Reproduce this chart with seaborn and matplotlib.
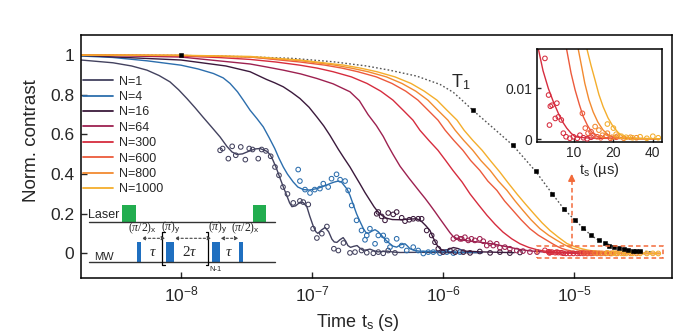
import numpy as np
import pandas as pd
import matplotlib
matplotlib.use("Agg")
import matplotlib.pyplot as plt
import seaborn as sns
from matplotlib.lines import Line2D
from matplotlib.patches import Rectangle
from matplotlib.ticker import FixedLocator, NullLocator

sns.set_style("ticks")
plt.rcParams['font.family'] = ['Liberation Sans', 'DejaVu Sans']
plt.rcParams['mathtext.fontset'] = 'custom'
plt.rcParams['mathtext.rm'] = 'Liberation Sans'
plt.rcParams['mathtext.it'] = 'Liberation Serif:italic'
plt.rcParams['mathtext.bf'] = 'Liberation Sans:bold'

# ---------------- data ----------------
series_names = ['N=1', 'N=4', 'N=16', 'N=64', 'N=300', 'N=600', 'N=800', 'N=1000']
series_colors = ['#43425f', '#2c6ead', '#3b1a3c', '#9d2150', '#d62c3e', '#ec5a3c', '#f28a30', '#f4ae2c']

# fitted curves, time in seconds
fit_n1_t = [1.73e-9, 3.03e-9, 4.2e-9, 5.5e-9, 6.8e-9, 8.24e-9, 9.6e-9, 1.11e-8, 1.28e-8, 1.47e-8,
            1.72e-8, 1.99e-8, 2.24e-8, 2.45e-8, 2.67e-8, 2.95e-8, 3.37e-8, 3.7e-8, 4.01e-8, 4.53e-8,
            4.8e-8, 5.04e-8, 5.35e-8, 5.70e-8, 6.05e-8, 6.44e-8, 6.75e-8, 7.03e-8, 7.5e-8, 8.09e-8,
            8.6e-8, 9.16e-8, 9.6e-8, 1.02e-7, 1.07e-7, 1.11e-7, 1.18e-7, 1.26e-7, 1.34e-7, 1.42e-7,
            1.48e-7, 1.55e-7, 1.64e-7, 1.73e-7, 1.81e-7, 1.88e-7, 1.97e-7, 2.08e-7, 2.21e-7, 2.33e-7,
            2.45e-7, 2.6e-7, 2.77e-7, 2.97e-7, 3.19e-7, 3.45e-7, 3.74e-7, 4.2e-7, 4.70e-7, 6.67e-7,
            1.13e-6, 2.0e-6]
fit_n1_y = [0.975, 0.961, 0.945, 0.924, 0.897, 0.865, 0.825, 0.781, 0.735, 0.688,
            0.636, 0.587, 0.540, 0.512, 0.499, 0.502, 0.518, 0.527, 0.529, 0.515,
            0.497, 0.470, 0.430, 0.380, 0.335, 0.290, 0.255, 0.236, 0.240, 0.258,
            0.256, 0.234, 0.190, 0.140, 0.110, 0.101, 0.118, 0.131, 0.110, 0.072,
            0.058, 0.056, 0.070, 0.080, 0.062, 0.040, 0.031, 0.036, 0.040, 0.026,
            0.016, 0.018, 0.022, 0.014, 0.008, 0.010, 0.012, 0.007, 0.005, 0.006,
            0.004, 0.004]

fit_n4_t = [1.73e-9, 3.0e-9, 5.5e-9, 1.0e-8, 1.35e-8, 1.77e-8, 2.1e-8, 2.37e-8, 2.7e-8, 2.99e-8,
            3.37e-8, 3.8e-8, 4.25e-8, 4.7e-8, 5.2e-8, 5.6e-8, 6.04e-8, 6.5e-8, 7.2e-8, 7.8e-8,
            8.6e-8, 9.6e-8, 1.09e-7, 1.22e-7, 1.37e-7, 1.48e-7, 1.59e-7, 1.68e-7, 1.75e-7, 1.85e-7,
            1.95e-7, 2.07e-7, 2.19e-7, 2.33e-7, 2.47e-7, 2.58e-7, 2.7e-7, 2.85e-7, 3.03e-7, 3.2e-7,
            3.4e-7, 3.65e-7, 3.94e-7, 4.15e-7, 4.43e-7, 4.75e-7, 5.13e-7, 5.35e-7, 5.6e-7, 6.0e-7,
            6.6e-7, 8.0e-7, 1.0e-6, 1.3e-6, 2.0e-6]
fit_n4_y = [0.995, 0.988, 0.971, 0.949, 0.930, 0.907, 0.885, 0.857, 0.815, 0.773,
            0.722, 0.680, 0.638, 0.585, 0.529, 0.480, 0.436, 0.400, 0.360, 0.335,
            0.322, 0.320, 0.327, 0.338, 0.352, 0.360, 0.365, 0.360, 0.345, 0.325,
            0.293, 0.245, 0.200, 0.160, 0.125, 0.106, 0.102, 0.112, 0.120, 0.110,
            0.091, 0.068, 0.049, 0.037, 0.032, 0.044, 0.049, 0.038, 0.024, 0.016,
            0.012, 0.010, 0.012, 0.006, 0.005]

fit_n16_t = [1.73e-9, 1.0e-8, 2.2e-8, 3.37e-8, 4.5e-8, 5.2e-8, 6.04e-8, 7.0e-8, 8.1e-8, 9.5e-8,
             1.09e-7, 1.23e-7, 1.37e-7, 1.59e-7, 1.76e-7, 1.95e-7, 2.13e-7, 2.32e-7, 2.54e-7, 2.77e-7,
             2.98e-7, 3.2e-7, 3.45e-7, 3.71e-7, 4.1e-7, 4.7e-7, 5.5e-7, 6.3e-7, 6.9e-7, 7.4e-7,
             7.96e-7, 8.3e-7, 8.7e-7, 9.1e-7, 9.5e-7, 1.0e-6, 1.1e-6, 1.2e-6, 1.3e-6, 1.45e-6,
             2.0e-6, 3.5e-6]
fit_n16_y = [0.998, 0.975, 0.945, 0.916, 0.877, 0.860, 0.840, 0.812, 0.781, 0.737,
             0.688, 0.643, 0.596, 0.525, 0.480, 0.436, 0.393, 0.352, 0.307, 0.268,
             0.235, 0.209, 0.190, 0.178, 0.171, 0.170, 0.173, 0.175, 0.160, 0.140,
             0.116, 0.088, 0.060, 0.038, 0.024, 0.016, 0.020, 0.030, 0.025, 0.012,
             0.008, 0.004]

fit_n64_t = [1.73e-9, 1.0e-8, 2.0e-8, 3.37e-8, 4.5e-8, 6.04e-8, 8.2e-8, 1.09e-7, 1.45e-7, 1.95e-7,
             2.3e-7, 2.68e-7, 3.1e-7, 3.5e-7, 3.8e-7, 4.15e-7, 4.7e-7, 5.5e-7, 6.67e-7, 7.3e-7,
             7.96e-7, 8.7e-7, 9.48e-7, 1.04e-6, 1.13e-6, 1.2e-6, 1.28e-6, 1.4e-6, 1.61e-6, 1.9e-6,
             2.17e-6, 2.5e-6, 2.87e-6, 3.3e-6, 3.87e-6, 4.5e-6, 5.22e-6, 6.3e-6, 7.82e-6, 1.6e-5]
fit_n64_y = [1.0, 0.990, 0.970, 0.955, 0.940, 0.924, 0.905, 0.882, 0.855, 0.815,
             0.770, 0.700, 0.645, 0.590, 0.545, 0.500, 0.440, 0.380, 0.310, 0.278,
             0.245, 0.210, 0.175, 0.138, 0.105, 0.085, 0.075, 0.068, 0.062, 0.057,
             0.052, 0.046, 0.038, 0.030, 0.020, 0.014, 0.010, 0.006, 0.004, 0.002]

fit_n300_t = [1.73e-9, 5.0e-9, 1.0e-8, 2.0e-8, 3.37e-8, 5.3e-8, 8.09e-8, 1.1e-7, 1.45e-7, 2.0e-7,
              2.63e-7, 3.35e-7, 4.15e-7, 5.0e-7, 5.9e-7, 6.67e-7, 7.8e-7, 9.16e-7, 1.05e-6, 1.19e-6,
              1.4e-6, 1.61e-6, 1.87e-6, 2.17e-6, 2.5e-6, 2.87e-6, 3.35e-6, 3.87e-6, 4.5e-6, 5.22e-6,
              5.8e-6, 6.37e-6, 7.0e-6, 7.6e-6, 8.2e-6, 8.8e-6, 9.5e-6, 1.02e-5, 1.2e-5, 1.5e-5,
              4.5e-5]
fit_n300_y = [1.0, 0.998, 0.995, 0.987, 0.978, 0.965, 0.949, 0.934, 0.916, 0.890,
              0.857, 0.818, 0.773, 0.720, 0.672, 0.621, 0.570, 0.520, 0.468, 0.419,
              0.360, 0.300, 0.245, 0.192, 0.147, 0.108, 0.074, 0.049, 0.031, 0.019,
              0.0135, 0.010, 0.0072, 0.0051, 0.0034, 0.0022, 0.0012, 0.0005, 0.0003, 0.0002,
              0.0001]

fit_n600_t = [1.73e-9, 1.0e-8, 3.37e-8, 8.09e-8, 1.26e-7, 1.7e-7, 2.24e-7, 3.1e-7, 4.08e-7, 5.2e-7,
              6.44e-7, 7.75e-7, 9.16e-7, 1.04e-6, 1.21e-6, 1.42e-6, 1.63e-6, 1.91e-6, 2.2e-6, 2.58e-6,
              2.95e-6, 3.42e-6, 3.95e-6, 4.61e-6, 5.35e-6, 6.22e-6, 6.9e-6, 7.5e-6, 8.1e-6, 8.8e-6,
              9.5e-6, 1.02e-5, 1.1e-5, 1.18e-5, 1.27e-5, 1.36e-5, 1.45e-5, 1.55e-5, 2.0e-5, 4.5e-5]
fit_n600_y = [1.0, 0.998, 0.990, 0.965, 0.949, 0.934, 0.916, 0.890, 0.857, 0.818,
              0.773, 0.720, 0.672, 0.621, 0.570, 0.520, 0.468, 0.419, 0.365, 0.318,
              0.265, 0.217, 0.170, 0.125, 0.092, 0.066, 0.048, 0.035, 0.025, 0.0176,
              0.013, 0.0097, 0.0068, 0.0044, 0.0027, 0.0015, 0.0008, 0.0004, 0.0002, 0.0001]

fit_n800_t = [1.73e-9, 1.0e-8, 3.37e-8, 8.09e-8, 1.5e-7, 2.0e-7, 2.68e-7, 3.7e-7, 4.86e-7, 6.2e-7,
              7.67e-7, 9.2e-7, 1.09e-6, 1.24e-6, 1.44e-6, 1.69e-6, 1.95e-6, 2.29e-6, 2.65e-6, 3.08e-6,
              3.55e-6, 4.08e-6, 4.7e-6, 5.5e-6, 6.4e-6, 7.41e-6, 8.3e-6, 9.1e-6, 9.88e-6, 1.08e-5,
              1.15e-5, 1.21e-5, 1.3e-5, 1.4e-5, 1.52e-5, 1.67e-5, 1.82e-5, 2.0e-5, 3.0e-5, 4.5e-5]
fit_n800_y = [1.0, 0.998, 0.990, 0.972, 0.949, 0.934, 0.916, 0.890, 0.857, 0.818,
              0.773, 0.720, 0.672, 0.621, 0.570, 0.520, 0.468, 0.419, 0.365, 0.318,
              0.265, 0.217, 0.170, 0.125, 0.092, 0.066, 0.047, 0.034, 0.025, 0.0176,
              0.014, 0.011, 0.0078, 0.0054, 0.0034, 0.0018, 0.0009, 0.0004, 0.0001, 0.0001]

fit_n1000_t = [1.73e-9, 1.0e-8, 3.37e-8, 8.09e-8, 1.76e-7, 2.35e-7, 3.13e-7, 4.3e-7, 5.7e-7, 7.2e-7,
               8.99e-7, 1.08e-6, 1.28e-6, 1.45e-6, 1.69e-6, 1.99e-6, 2.3e-6, 2.72e-6, 3.15e-6, 3.67e-6,
               4.25e-6, 4.95e-6, 5.7e-6, 6.56e-6, 7.6e-6, 8.85e-6, 1.0e-5, 1.13e-5, 1.26e-5, 1.35e-5,
               1.45e-5, 1.55e-5, 1.67e-5, 1.82e-5, 1.99e-5, 2.18e-5, 2.38e-5, 3.0e-5, 4.5e-5]
fit_n1000_y = [1.0, 0.999, 0.993, 0.975, 0.949, 0.934, 0.916, 0.890, 0.857, 0.818,
               0.773, 0.720, 0.672, 0.621, 0.570, 0.520, 0.468, 0.410, 0.355, 0.300,
               0.250, 0.200, 0.155, 0.116, 0.082, 0.050, 0.036, 0.025, 0.0176, 0.0145,
               0.0116, 0.0088, 0.0064, 0.0042, 0.0025, 0.0013, 0.0005, 0.0002, 0.0001]

# measured points (open circles)
data_n1_t = [1.99e-8, 2.08e-8, 2.30e-8, 2.46e-8, 2.62e-8, 2.86e-8, 3.10e-8, 3.32e-8, 3.52e-8, 3.89e-8,
             4.13e-8, 4.45e-8, 4.84e-8, 5.22e-8, 5.60e-8, 6.01e-8, 6.50e-8, 7.20e-8, 8.09e-8, 8.58e-8,
             9.37e-8, 1.02e-7, 1.09e-7, 1.19e-7, 1.30e-7, 1.47e-7, 1.59e-7, 1.74e-7, 1.95e-7, 2.13e-7,
             2.39e-7, 2.62e-7, 2.94e-7, 3.21e-7, 3.50e-7, 3.82e-7, 4.30e-7]
data_n1_y = [0.520, 0.529, 0.478, 0.540, 0.495, 0.537, 0.473, 0.529, 0.524, 0.478,
             0.524, 0.517, 0.490, 0.436, 0.394, 0.335, 0.300, 0.255, 0.265, 0.259,
             0.247, 0.125, 0.078, 0.100, 0.136, 0.024, 0.015, 0.053, 0.003, 0.007,
             0.015, 0.004, 0.001, 0.007, 0.001, 0.015, 0.003]

data_n4_t = [7.85e-8, 8.09e-8, 8.85e-8, 9.66e-8, 1.05e-7, 1.15e-7, 1.22e-7, 1.33e-7, 1.41e-7, 1.54e-7,
             1.64e-7, 1.79e-7, 1.89e-7, 2.01e-7, 2.19e-7, 2.39e-7, 2.54e-7, 2.62e-7, 2.77e-7, 3.03e-7,
             3.21e-7, 3.50e-7, 3.72e-7, 3.94e-7, 4.43e-7, 4.84e-7, 5.29e-7, 5.93e-7, 6.47e-7, 7.08e-7,
             7.72e-7, 8.43e-7, 9.48e-7, 1.07e-6, 1.20e-6, 1.35e-6]
data_n4_y = [0.423, 0.365, 0.322, 0.305, 0.322, 0.327, 0.352, 0.335, 0.377, 0.399,
             0.372, 0.365, 0.318, 0.242, 0.167, 0.116, 0.069, 0.091, 0.125, 0.049,
             0.091, 0.091, 0.066, 0.032, 0.074, 0.040, 0.015, 0.032, 0.015, 0.000,
             0.007, 0.007, 0.002, 0.007, 0.002, 0.007]

data_n16_t = [3.12e-7, 3.21e-7, 3.40e-7, 3.61e-7, 3.82e-7, 4.17e-7, 4.43e-7, 4.84e-7, 5.13e-7, 5.53e-7,
              5.93e-7, 6.47e-7, 6.87e-7, 7.51e-7, 8.20e-7, 8.69e-7, 9.21e-7, 1.00e-6, 1.13e-6, 1.24e-6,
              1.43e-6, 1.61e-6, 1.91e-6, 2.29e-6, 2.72e-6, 3.24e-6, 3.87e-6]
data_n16_y = [0.200, 0.209, 0.187, 0.167, 0.204, 0.197, 0.209, 0.180, 0.163, 0.170,
              0.175, 0.175, 0.175, 0.116, 0.091, 0.057, 0.024, 0.007, 0.015, 0.007,
              0.007, 0.003, 0.010, 0.003, 0.007, 0.002, 0.005]

data_n64_t = [1.20e-6, 1.27e-6, 1.35e-6, 1.39e-6, 1.47e-6, 1.56e-6, 1.65e-6, 1.75e-6, 1.91e-6, 2.03e-6,
              2.16e-6, 2.29e-6, 2.42e-6, 2.57e-6, 2.72e-6, 2.97e-6, 3.24e-6, 3.66e-6, 4.08e-6, 4.61e-6,
              5.22e-6]
data_n64_y = [0.074, 0.082, 0.074, 0.074, 0.082, 0.066, 0.074, 0.066, 0.074, 0.062,
              0.040, 0.052, 0.040, 0.049, 0.029, 0.032, 0.024, 0.015, 0.012, 0.007,
              0.007]

data_n300_t = [6.0e-6, 6.4e-6, 6.6e-6, 6.8e-6, 6.5e-6, 7.2e-6, 7.4e-6, 7.6e-6, 8.0e-6, 8.3e-6,
               8.7e-6, 9.3e-6, 9.9e-6, 1.06e-5, 1.11e-5, 1.18e-5, 1.26e-5, 1.35e-5]
data_n300_y = [0.0159, 0.0087, 0.0065, 0.0067, 0.0028, 0.0041, 0.0071, 0.0044, 0.0038, 0.0012,
               0.0005, 0.0002, 0.0005, 0.0002, 0.0008, 0.0003, 0.0001, 0.0004]

data_n600_t = [1.16e-5, 1.22e-5, 1.28e-5, 1.35e-5, 1.40e-5, 1.50e-5, 1.60e-5, 1.75e-5, 1.9e-5, 2.1e-5]
data_n600_y = [0.0051, 0.0022, 0.0012, 0.0015, 0.0008, 0.0005, 0.0003, 0.0006, 0.0002, 0.0004]

data_n800_t = [1.45e-5, 1.55e-5, 1.65e-5, 1.80e-5, 1.95e-5, 2.15e-5, 2.4e-5, 2.7e-5, 3.0e-5]
data_n800_y = [0.0025, 0.0018, 0.0008, 0.0012, 0.0004, 0.0006, 0.0002, 0.0004, 0.0003]

data_n1000_t = [1.80e-5, 2.0e-5, 2.1e-5, 2.3e-5, 2.5e-5, 2.8e-5, 3.2e-5, 3.6e-5, 4.0e-5, 4.4e-5]
data_n1000_y = [0.0030, 0.0022, 0.0010, 0.0006, 0.0004, 0.0003, 0.0005, 0.0002, 0.0006, 0.0003]

# T1 reference
t1_line_t = [1.73e-9, 1.0e-8, 3.0e-8, 7.2e-8, 1.46e-7, 2.6e-7, 3.9e-7, 6.3e-7, 9.5e-7, 1.2e-6,
             1.4e-6, 1.69e-6, 2.3e-6, 3.42e-6, 5.1e-6, 6.84e-6, 8.44e-6, 1.02e-5, 1.18e-5, 1.35e-5,
             1.55e-5, 1.73e-5, 2.03e-5, 2.5e-5, 3.2e-5, 4.0e-5]
t1_line_y = [1.0, 0.998, 0.992, 0.983, 0.966, 0.945, 0.924, 0.894, 0.852, 0.812,
             0.772, 0.722, 0.645, 0.545, 0.414, 0.300, 0.222, 0.167, 0.128, 0.091,
             0.066, 0.054, 0.032, 0.020, 0.012, 0.008]
t1_pts_t = [1.0e-8, 1.69e-6, 3.42e-6, 5.1e-6, 6.84e-6, 8.44e-6, 1.02e-5, 1.18e-5, 1.35e-5, 1.55e-5,
            1.73e-5, 1.86e-5, 2.03e-5, 2.2e-5, 2.4e-5, 2.6e-5, 2.8e-5, 3.0e-5, 3.2e-5]
t1_pts_y = [1.0, 0.722, 0.545, 0.414, 0.300, 0.222, 0.167, 0.128, 0.091, 0.066,
            0.054, 0.040, 0.032, 0.027, 0.022, 0.018, 0.015, 0.013, 0.012]

x_ticks = [1e-8, 1e-7, 1e-6, 1e-5]
y_ticks = [0, 0.2, 0.4, 0.6, 0.8, 1.0]
y_tick_labels = ['0', '0.2', '0.4', '0.6', '0.8', '1']
inset_x_ticks = [10, 20, 40]
inset_y_ticks = [0, 0.01]
inset_y_tick_labels = ['0', '0.01']

# ---------------- assemble ----------------
fit_t = [fit_n1_t, fit_n4_t, fit_n16_t, fit_n64_t, fit_n300_t, fit_n600_t, fit_n800_t, fit_n1000_t]
fit_y = [fit_n1_y, fit_n4_y, fit_n16_y, fit_n64_y, fit_n300_y, fit_n600_y, fit_n800_y, fit_n1000_y]
dat_t = [data_n1_t, data_n4_t, data_n16_t, data_n64_t, data_n300_t, data_n600_t, data_n800_t, data_n1000_t]
dat_y = [data_n1_y, data_n4_y, data_n16_y, data_n64_y, data_n300_y, data_n600_y, data_n800_y, data_n1000_y]

fit_df = pd.concat([pd.DataFrame({'t': t, 'y': y, 'N': n}) for t, y, n in zip(fit_t, fit_y, series_names)])
dat_df = pd.concat([pd.DataFrame({'t': t, 'y': y, 'N': n}) for t, y, n in zip(dat_t, dat_y, series_names)])
palette = dict(zip(series_names, series_colors))

fig = plt.figure(figsize=(6.9, 3.36), dpi=100)
ax = fig.add_axes([0.1174, 0.1741, 0.8565, 0.7217])

# T1 reference
sns.lineplot(x=t1_line_t, y=t1_line_y, ax=ax, color='#555555', lw=1.0, linestyle=(0, (1.2, 1.6)),
             estimator=None, sort=False)
sns.scatterplot(x=t1_pts_t, y=t1_pts_y, ax=ax, marker='s', s=11, color='black', edgecolor='black',
                linewidth=0.4, zorder=4)

sns.lineplot(data=fit_df, x='t', y='y', hue='N', hue_order=series_names, palette=palette,
             estimator=None, sort=False, lw=1.0, legend=False, ax=ax)
for n, c in zip(series_names, series_colors):
    sub = dat_df[dat_df['N'] == n]
    sns.scatterplot(x=sub['t'], y=sub['y'], ax=ax, marker='o', s=11, facecolor='none',
                    edgecolor=c, linewidth=0.75, zorder=3)

ax.set_xscale('log')
ax.set_xlim(1.726e-9, 5.6e-5)
ax.set_ylim(-0.121, 1.101)
ax.xaxis.set_major_locator(FixedLocator(x_ticks))
ax.xaxis.set_minor_locator(NullLocator())
ax.set_yticks(y_ticks)
ax.set_yticklabels(y_tick_labels)
ax.tick_params(direction='in', length=4, width=1.0, labelsize=12.5, pad=5)
for s in ax.spines.values():
    s.set_linewidth(1.1)
    s.set_color('black')
ax.set_xlabel('Time t$_\\mathrm{s}$ (s)', fontsize=13)
ax.set_ylabel('Norm. contrast', fontsize=13.5)
ax.xaxis.set_label_coords(0.469, -0.142)
ax.yaxis.set_label_coords(-0.07, 0.565)

ax.text(1.37e-6, 0.862, 'T$_\\mathrm{1}$', fontsize=13, ha='center', va='center')

# dashed zoom box and arrow
box_col = '#f26a3a'
ax.add_patch(Rectangle((5.2e-6, -0.022), 4.75e-5 - 5.2e-6, 0.062, fill=False, edgecolor=box_col,
                       linestyle=(0, (3, 2)), lw=1.1, zorder=5))
ax.plot([9.6e-6, 9.6e-6], [0.04, 0.39], color=box_col, lw=1.1, linestyle=(0, (3, 2)), zorder=5)
ax.annotate('', xy=(9.6e-6, 0.415), xytext=(9.6e-6, 0.37),
            arrowprops=dict(arrowstyle='-|>', color=box_col, lw=1.1, mutation_scale=10), zorder=5)

handles = [Line2D([], [], color=c, lw=1.3) for c in series_colors]
ax.legend(handles, series_names, loc='upper left', bbox_to_anchor=(0.0034, 0.832), frameon=False,
          fontsize=9, handlelength=2.4, handletextpad=0.5, labelspacing=0.27,
          borderaxespad=0, borderpad=0)

# ---------------- inset ----------------
axi = fig.add_axes([0.7778, 0.5783, 0.1816, 0.2744])
in_names = series_names[4:]
in_fit = fit_df[fit_df['N'].isin(in_names)].copy()
in_fit['t'] = in_fit['t'] * 1e6
sns.lineplot(data=in_fit, x='t', y='y', hue='N', hue_order=in_names, palette=palette,
             estimator=None, sort=False, lw=1.0, legend=False, ax=axi)
for n in in_names:
    sub = dat_df[dat_df['N'] == n]
    sns.scatterplot(x=sub['t'] * 1e6, y=sub['y'], ax=axi, marker='o', s=11, facecolor='none',
                    edgecolor=palette[n], linewidth=0.75, zorder=3)
axi.set_xscale('log')
axi.set_xlim(5.19, 47.0)
axi.set_ylim(-0.00047, 0.01765)
axi.xaxis.set_major_locator(FixedLocator(inset_x_ticks))
axi.xaxis.set_minor_locator(NullLocator())
axi.set_xticklabels([str(v) for v in inset_x_ticks])
axi.set_yticks(inset_y_ticks)
axi.set_yticklabels(inset_y_tick_labels)
axi.tick_params(direction='in', length=3, width=1.0, labelsize=10, pad=3)
for s in axi.spines.values():
    s.set_linewidth(1.1)
    s.set_color('black')
axi.set_xlabel('t$_\\mathrm{s}$ (\u00b5s)', fontsize=10.5, labelpad=1)
axi.set_ylabel('')

# ---------------- pulse sequence schematic (figure pixel space) ----------------
ov = fig.add_axes([0, 0, 1, 1], zorder=6)
ov.set_xlim(0, 690)
ov.set_ylim(336, 0)
ov.axis('off')
ov.patch.set_alpha(0)
green = '#22ad4f'
blue = '#1f6fc0'
ov.plot([89, 275], [221.5, 221.5], color='#333333', lw=1.0)
ov.plot([89, 275], [261.5, 261.5], color='#333333', lw=1.0)
ov.add_patch(Rectangle((122.3, 204.5), 13.7, 17, color=green, lw=0))
ov.add_patch(Rectangle((252.7, 204.5), 13.3, 17, color=green, lw=0))
ov.text(88, 221, 'Laser', fontsize=9, ha='left', va='bottom')
ov.text(94, 262.5, 'MW', fontsize=8, ha='left', va='bottom')
for x0, w in [(137.3, 3.6), (165.7, 8.3), (211.7, 8.3), (239, 4.3)]:
    ov.add_patch(Rectangle((x0, 241.7), w, 19.8, color=blue, lw=0))
# brackets
ov.plot([164.5, 161.7, 161.7, 164.5], [231.7, 231.7, 265, 265], color='black', lw=0.9)
ov.plot([205.5, 208.3, 208.3, 205.5], [231.7, 231.7, 265, 265], color='black', lw=0.9)
ov.text(209.5, 266, 'N-1', fontsize=5.5, ha='left', va='top')
# pulse labels
ov.text(142.5, 228, '($\\pi$/2)$_\\mathrm{x}$', fontsize=8.5, ha='center', va='center', family='Liberation Serif')
ov.text(170.8, 228, '($\\pi$)$_\\mathrm{y}$', fontsize=8.5, ha='center', va='center', family='Liberation Serif')
ov.text(217.5, 228, '($\\pi$)$_\\mathrm{y}$', fontsize=8.5, ha='center', va='center', family='Liberation Serif')
ov.text(245.5, 228, '($\\pi$/2)$_\\mathrm{x}$', fontsize=8.5, ha='center', va='center', family='Liberation Serif')
for a, b in [(141.5, 165.2), (174.5, 211.2), (220.5, 238.5)]:
    ov.annotate('', xy=(a, 238.3), xytext=(b, 238.3),
                arrowprops=dict(arrowstyle='<|-|>', color='#444444', lw=0.8, linestyle=(0, (2, 2)),
                                mutation_scale=5, shrinkA=0, shrinkB=0))
ov.text(152.5, 252, '$\\tau$', fontsize=11, ha='center', va='center')
ov.text(190, 252, '2$\\tau$', fontsize=11, ha='center', va='center', family='Liberation Serif')
ov.text(229, 252, '$\\tau$', fontsize=11, ha='center', va='center')

fig.savefig('out.png', dpi=100)
